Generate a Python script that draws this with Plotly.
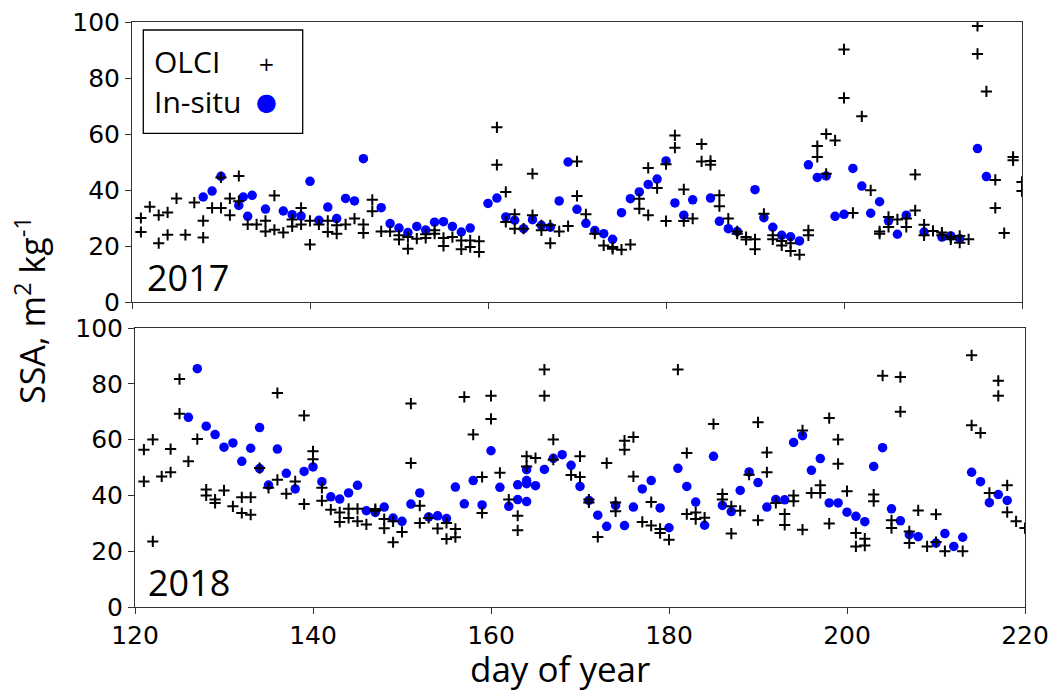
import plotly.graph_objects as go

# ---------------- data ----------------
OLCI_2017_DAY = [121,122,123,124,125,126,127,128,129,130,131,132,133,134,135,136,137,138,139,140,
                 141,142,143,144,145,146,147,148,149,150,151,152,153,154,155,156,157,158,159,
                 161,162,163,164,165,166,167,168,169,170,171,172,173,174,175,176,177,178,179,180,
                 181,182,183,184,185,186,187,188,189,190,191,192,193,194,195,196,197,198,199,200,
                 201,202,203,204,205,206,207,208,209,210,211,212,213,214,215,216,217,218,219,220]
OLCI_2017_SSA = [[30,25],[34],[31,21],[32,24],[37],[24],[35.5],[29,23],[33.6],[44.5,33.6],
                 [37,31],[45,36],[27.7],[27.7],[29,25.2],[38,25.8],[24.8],[29.5,27],[33.6,27.7],[29,20.5],
                 [27.7],[29,25],[27.4,24.4],[27.7],[29.8],[27.7,24.6],[36.5,32.4],[25.2],[25.2],[23.8,22.3],
                 [23.2,19],[22.6],[24.2,22.9],[25.6,24.4],[22.9,20],[23.2],[22,18.8],[22,19.6],[21.7,17.9],
                 [62.4,49],[39.3,28.6],[31.3,26.2],[26.2],[45.8,31],[27.4,25.6],[27.4,21],[25.2],[27.1],[50.2,37.9],
                 [31.3],[24.4],[20.2],[19.6,19],[18.7],[20.5],[36.9,33.3],[47.9,31],[40.7],[49.2,28.9],
                 [59.5,55.1],[40.2,28.9],[29.8],[56.4,50.2],[50.4,49],[38.1,34.2],[29.8],[25.2,24.4],[23.2,22.3],[22.4,18.8],
                 [31.5],[23.8,22.4],[21.8,20.2],[21,18.2],[16.9],[25.6,23.8],[55.7,51.8],[60,45.8],[57.7],[90.2,72.9],
                 [31.8],[66.3],[39.9],[25.2,24.4],[30.4,26.8],[29.5],[29.8,26.8],[45.5,32.7],[27.6,23.8],[25.4],
                 [24.8,23.8],[23.2,22.4],[23.6,21.2],[22.4],[98.6,88.6],[75.2],[43.6,33.6],[24.6],[51.8,50.6],[42.9,39.6]]

INSITU_2017_DAY = [128,129,130,132,132.5,133,133.5,135,137,138,139,140,141,142,143,144,145,146,
                   148,149,150,151,152,153,154,155,156,157,158,
                   160,161,162,163,164,165,166,167,168,169,170,171,172,173,174,175,176,177,178,179,180,181,182,183,
                   185,186,187,188,
                   190,191,192,193,194,195,196,197,198,199,200,201,202,203,204,205,206,207,
                   209,211,212,213,215,216]
INSITU_2017_SSA = [37.5,39.6,44.9,34.5,37.5,30.6,38.1,33.2,32.5,31.2,30.7,43.1,29.2,33.9,29.8,37.0,36.1,51.2,
                   33.7,28.0,26.4,24.8,27.0,25.7,28.5,28.7,27.0,25.0,26.4,
                   35.2,37.1,30.4,29.2,26.2,29.4,27.4,26.7,36.1,50.0,33.1,28.1,25.5,24.4,22.4,31.9,36.9,39.3,42,43.9,50.4,35.4,31,36.5,
                   37.1,28.8,26.2,25.2,
                   40.1,30.1,26.7,23.8,23.3,21.8,49,44.5,45,30.6,31.3,47.7,41.4,31.7,35.8,29,24.2,31,
                   25,23.2,23.6,22.6,54.8,44.8]

OLCI_2018_DAY = [121,122,123,124,125,126,127,128,129,130,131,132,133,134,135,136,137,138,139,140,
                 141,142,143,144,145,146,147,148,149,150,151,152,153,154,155,156,157,158,159,160,
                 161,162,163,164,165,166,167,169,170,171,172,173,174,175,176,177,178,179,180,
                 181,182,183,184,185,186,187,188,189,190,191,192,193,194,195,196,197,198,199,200,
                 201,202,203,204,205,206,207,208,209,210,211,213,214,215,216,217,218,219,220]
OLCI_2018_SSA = [[56.4,45],[60,23.5],[46.8],[56.6,48.3],[81.7,69.3],[52.2],[60.2],[42.1,40],[38.5,37.3],[41.8],
                 [36.1],[39.3,33.7],[39.3,33.1],[49.8],[42.7],[76.7,45.6],[40.6],[45],[68.6,36.9],[55.8,53],
                 [42.7,38.1],[34.9],[33.9,30.5],[35.2,31.9],[35.2,30.7],[29.6],[35.1,34.5],[31.5,28.2],[30.7,23.2],[26.9],
                 [72.9,51.6],[36.3,30.1],[31.9],[28.1],[30.1,24.4],[28,25],[75.3],[61.8],[46.6,33.7],[75.7,67.4],
                 [48.1],[38.5],[32.7,27.5],[54,50.4],[53.4],[85.1,75.7],[60,52.8],
                 [47.3],[54,46.6],[38.5,37.5],[25.1],[51.6],[37.5,34.3],[59.6,56.4],[60.9,46.8],[30.5],[37.6,29.2],
                 [28,26.5],[24.1],[85.1],[55.2,33.3],[33.9,31.5],[32],[65.6],[40.5,38.5],[36.1,26.3],[34.5],
                 [47.4],[66.2,31.1],[55.4,48.3],[37.3],[33.3,29.4],[40,37.9],[63.3,27.7],[40.9],[43.6,40.9],[67.7,29.9],
                 [60,51.3],[41.5],[26.5,21.7],[24.5,22],[40.3,37.9],[82.9],[31.1,28.3],[82.4,70],[27.1,22.9],[34.6],
                 [21.7],[33.2,23.3],[20],
                 [20],[90.2,65.1],[62.4],[40.9],[81.1,75.7],[43.6,34],[30.7],[28.3]]

INSITU_2018_DAY = [126,127,128,129,130,131,132,133,134,134,
                   135,136,137,138,139,140,141,142,143,144,145,146,147,148,149,150,151,152,153,154,155,156,157,158,159,160,161,162,163,163,
                   164,164,164,164,
                   165,166,167,168,169,170,171,172,173,174,175,176,177,178,179,180,181,182,183,184,185,186,187,188,189,190,
                   191,192,193,194,195,196,197,198,199,200,201,202,203,204,205,206,207,208,
                   210,211,212,213,214,215,216,217,218]
INSITU_2018_SSA = [68,85.4,64.8,61.8,57.3,58.8,52.2,56.9,64.3,49.6,
                   43.7,56.6,47.9,42.3,48.6,50.2,44.9,39.5,38.7,40.9,43.6,34.5,33.9,35.8,31.9,30.7,36.9,40.9,32.3,32.7,31.7,43,37,45.3,36.6,56,42.9,36.1,43.8,38.5,
                   49.2,45.3,44.2,37.8,
                   43.5,49.3,53.3,54.6,50.8,43.2,38.2,32.9,28.9,36.4,29.2,35.8,42.3,45.3,35.5,28.4,49.7,43.2,37.6,29.3,54,36.4,34.2,41.8,48.4,44.6,
                   35.8,38.5,38.4,59,61.4,49,53.2,37.3,37.3,34,32.5,30.6,50.4,57.1,35.2,30.9,25.9,25.2,
                   22.9,26.3,21.7,25,48.3,44.9,37.4,40.3,38.2]

X_TICKS = [120, 140, 160, 180, 200, 220]
Y_TICKS = [0, 20, 40, 60, 80, 100]
YEAR_LABELS = ["2017", "2018"]
LEGEND_LABELS = ["OLCI", "In-situ"]
Y_TITLE = "SSA, m<sup>2</sup> kg<sup>-1</sup>"
X_TITLE = "day of year"


def flatten(days, vals):
    xs, ys = [], []
    for d, vs in zip(days, vals):
        for v in vs:
            xs.append(d)
            ys.append(v)
    return xs, ys


W, H = 1053, 696
BLUE = "#0000ff"
LINE = "#333333"
TICKFONT = dict(family="DejaVu Sans", size=25, color="black")


def px(x):
    return x / W


def py(y):
    return 1 - y / H


fig = go.Figure()

panels = [
    ("x", "y", OLCI_2017_DAY, OLCI_2017_SSA, INSITU_2017_DAY, INSITU_2017_SSA),
    ("x2", "y2", OLCI_2018_DAY, OLCI_2018_SSA, INSITU_2018_DAY, INSITU_2018_SSA),
]
for xa, ya, od, ov, idays, ivals in panels:
    fig.add_trace(go.Scatter(
        x=idays, y=ivals, mode="markers", xaxis=xa, yaxis=ya,
        marker=dict(symbol="circle", size=9.5, color=BLUE, line=dict(width=0)),
        name=LEGEND_LABELS[1], showlegend=False))
    ox, oy = flatten(od, ov)
    fig.add_trace(go.Scatter(
        x=ox, y=oy, mode="markers", xaxis=xa, yaxis=ya,
        marker=dict(symbol="cross-thin", size=8, color="black",
                    line=dict(width=2, color="black")),
        name=LEGEND_LABELS[0], showlegend=False))

common_x = dict(range=[120, 220], tickvals=X_TICKS, ticks="outside", ticklen=6,
                tickwidth=1, tickcolor=LINE, showline=True, linecolor=LINE, linewidth=1,
                mirror=True, showgrid=False, zeroline=False, tickfont=TICKFONT,
                automargin=False, fixedrange=True)
common_y = dict(range=[0, 100], tickvals=Y_TICKS, ticks="outside", ticklen=6,
                tickwidth=1, tickcolor=LINE, showline=True, linecolor=LINE, linewidth=1,
                mirror=True, showgrid=False, zeroline=False, tickfont=TICKFONT,
                automargin=False, fixedrange=True)

fig.update_layout(
    template="none",
    width=W, height=H, autosize=False,
    margin=dict(l=0, r=0, t=0, b=0, pad=0),
    paper_bgcolor="white", plot_bgcolor="white",
    showlegend=False,
    xaxis=dict(domain=[px(132), px(1022)], anchor="y", showticklabels=False, **common_x),
    yaxis=dict(domain=[py(302), py(22)], anchor="x", **common_y),
    xaxis2=dict(domain=[px(135), px(1025)], anchor="y2", showticklabels=True, **common_x),
    yaxis2=dict(domain=[py(607), py(328)], anchor="x2", **common_y),
)

ann = []
ann.append(dict(text=Y_TITLE, x=px(30), y=py(310), xref="paper", yref="paper",
                textangle=-90, showarrow=False, xanchor="center", yanchor="middle",
                font=dict(family="Liberation Sans Narrow, Arial Narrow, Open Sans", size=34, color="black")))
ann.append(dict(text=X_TITLE, x=px(560), y=py(668), xref="paper", yref="paper",
                showarrow=False, xanchor="center", yanchor="middle", borderpad=0,
                font=dict(family="Open Sans", size=35, color="black")))
ann.append(dict(text=YEAR_LABELS[0], x=px(145), y=py(277), xref="paper", yref="paper",
                showarrow=False, xanchor="left", yanchor="middle",
                font=dict(family="Open Sans", size=36, color="black")))
ann.append(dict(text=YEAR_LABELS[1], x=px(146), y=py(582), xref="paper", yref="paper",
                showarrow=False, xanchor="left", yanchor="middle",
                font=dict(family="Open Sans", size=36, color="black")))
# legend (text left, symbol right, as in the reference)
ann.append(dict(text=LEGEND_LABELS[0], x=px(152), y=py(62), xref="paper", yref="paper",
                showarrow=False, xanchor="left", yanchor="middle",
                font=dict(family="Open Sans", size=30, color="black")))
ann.append(dict(text=LEGEND_LABELS[1], x=px(152), y=py(101), xref="paper", yref="paper",
                showarrow=False, xanchor="left", yanchor="middle",
                font=dict(family="Open Sans", size=30, color="black")))
ann.append(dict(text="+", x=px(266.7), y=py(64.3), xref="paper", yref="paper",
                showarrow=False, xanchor="center", yanchor="middle",
                font=dict(family="DejaVu Sans", size=20, color="black")))
ann.append(dict(text="\u25cf", x=px(266.7), y=py(102.3), xref="paper", yref="paper",
                showarrow=False, xanchor="center", yanchor="middle",
                font=dict(family="DejaVu Sans", size=24, color=BLUE)))
fig.update_layout(annotations=ann)

fig.add_shape(type="rect", xref="paper", yref="paper",
              x0=px(143.3), x1=px(302.7), y0=py(133.3), y1=py(30),
              line=dict(color="black", width=1.3), fillcolor="rgba(0,0,0,0)")

fig.write_html("out.html", config={"displayModeBar": False},
               post_script="document.body.style.margin='0';")
